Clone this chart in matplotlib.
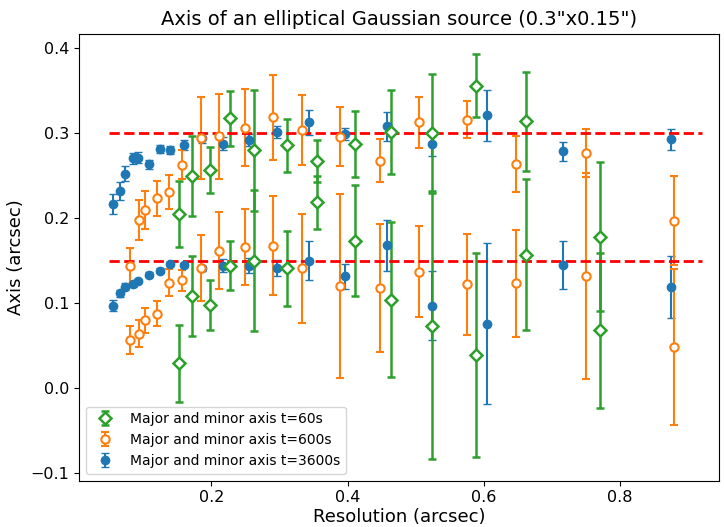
import matplotlib
matplotlib.use('Agg')
from matplotlib import pyplot as plt

# t=3600s (blue)
res_3600 = [0.0556, 0.0661, 0.0732, 0.0849, 0.0922, 0.1088, 0.1239, 0.139, 0.1595, 0.1864,
            0.2176, 0.2552, 0.296, 0.3438, 0.396, 0.4575, 0.5233, 0.6042, 0.716, 0.8745]
maj_3600 = [0.2165, 0.2317, 0.2524, 0.2704, 0.2712, 0.2634, 0.2817, 0.2802, 0.2864, 0.2939,
            0.2876, 0.2919, 0.301, 0.3127, 0.2993, 0.3083, 0.2876, 0.3212, 0.2787, 0.2927]
maj_err_3600 = [0.0117, 0.0105, 0.0088, 0.0064, 0.0064, 0.0053, 0.0047, 0.0047, 0.0059, 0.0059,
                0.0076, 0.007, 0.007, 0.0147, 0.007, 0.017, 0.0143, 0.030, 0.011, 0.012]
min_3600 = [0.0969, 0.1114, 0.1192, 0.1219, 0.1258, 0.1336, 0.1383, 0.1461, 0.145, 0.141,
            0.1442, 0.1438, 0.1418, 0.150, 0.1313, 0.168, 0.0969, 0.0758, 0.145, 0.1188]
min_err_3600 = [0.0066, 0.0043, 0.0043, 0.0035, 0.0025, 0.0025, 0.0025, 0.0025, 0.0025, 0.003,
                0.0078, 0.009, 0.0094, 0.023, 0.015, 0.030, 0.0406, 0.0946, 0.028, 0.036]

# t=600s (orange)
res_600 = [0.0803, 0.0932, 0.102, 0.1206, 0.1375, 0.1571, 0.184, 0.2117, 0.2487,
           0.291, 0.3336, 0.3887, 0.4473, 0.505, 0.575, 0.648, 0.7497, 0.879]
maj_600 = [0.144, 0.1977, 0.2098, 0.2231, 0.2306, 0.2626, 0.2946, 0.2966, 0.3064,
           0.3185, 0.3036, 0.2958, 0.2677, 0.3127, 0.3157, 0.2638, 0.2767, 0.197]
maj_err_600 = [0.021, 0.024, 0.0223, 0.021, 0.020, 0.017, 0.048, 0.050, 0.045,
               0.050, 0.041, 0.035, 0.025, 0.030, 0.022, 0.033, 0.028, 0.052]
min_600 = [0.0563, 0.064, 0.0797, 0.0875, 0.1239, 0.1266, 0.141, 0.1618, 0.1657,
           0.1676, 0.141, 0.120, 0.1176, 0.137, 0.1219, 0.1231, 0.1317, 0.048]
min_err_600 = [0.0166, 0.016, 0.015, 0.015, 0.016, 0.0127, 0.039, 0.045, 0.045,
               0.058, 0.064, 0.108, 0.075, 0.054, 0.059, 0.063, 0.1215, 0.092]

# t=60s (green)
res_60 = [0.1522, 0.1718, 0.198, 0.2268, 0.262, 0.3107, 0.3555, 0.4107, 0.4633,
          0.5233, 0.5892, 0.6628, 0.7706]
maj_60 = [0.2052, 0.2497, 0.2564, 0.3174, 0.2798, 0.2857, 0.2673, 0.2876, 0.3013,
          0.3005, 0.3556, 0.3137, 0.1782]
maj_err_60 = [0.0387, 0.047, 0.027, 0.032, 0.071, 0.031, 0.025, 0.039, 0.049,
              0.069, 0.037, 0.058, 0.088]
min_60 = [0.029, 0.1078, 0.0977, 0.1442, 0.150, 0.141, 0.2185, 0.1735, 0.104,
          0.073, 0.039, 0.1567, 0.068]
min_err_60 = [0.045, 0.047, 0.030, 0.029, 0.083, 0.044, 0.031, 0.065, 0.091,
              0.157, 0.120, 0.089, 0.091]

fig = plt.figure(figsize=(7.24, 5.27), dpi=100)
ax = fig.add_axes([0.109, 0.088, 0.884, 0.848])

h3600 = ax.errorbar(res_3600 + res_3600, maj_3600 + min_3600, yerr=maj_err_3600 + min_err_3600,
                    fmt='o', color='C0', capsize=3, elinewidth=1.5, markersize=6,
                    label='Major and minor axis t=3600s')
h600 = ax.errorbar(res_600 + res_600, maj_600 + min_600, yerr=maj_err_600 + min_err_600,
                   fmt='o', color='C1', mfc='white', mew=1.5, capsize=3, elinewidth=1.5,
                   markersize=6, label='Major and minor axis t=600s')
h60 = ax.errorbar(res_60 + res_60, maj_60 + min_60, yerr=maj_err_60 + min_err_60,
                  fmt='D', color='C2', mfc='white', mew=1.8, capsize=3, elinewidth=1.8,
                  capthick=1.8, markersize=6, label='Major and minor axis t=60s')

ax.hlines([0.3, 0.15], 0.05, 0.92, colors='red', linestyles='--', linewidth=2)

ax.set_xlim(0.0054, 0.9455)
ax.set_ylim(-0.109, 0.417)
ax.tick_params(labelsize=11.5)
ax.set_title('Axis of an elliptical Gaussian source (0.3"x0.15")', fontsize=14)
ax.set_xlabel('Resolution (arcsec)', fontsize=13, labelpad=2)
ax.set_ylabel('Axis (arcsec)', fontsize=13)
ax.legend(handles=[h60, h600, h3600], loc='lower left', fontsize=10)

fig.savefig('out.png', dpi=100)
